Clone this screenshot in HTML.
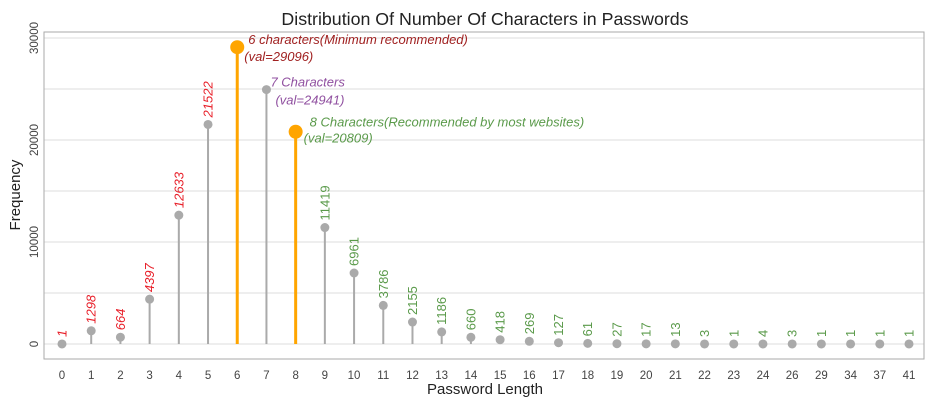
<!DOCTYPE html>
<html><head><meta charset="utf-8"><style>
body{margin:0;background:#fff;font-family:"Liberation Sans",sans-serif}
</style></head><body>
<svg id="c" width="934" height="404" xmlns="http://www.w3.org/2000/svg">
<text x="485" y="25" text-anchor="middle" font-size="17.8" fill="#222">Distribution Of Number Of Characters in Passwords</text>
<text x="485" y="394" text-anchor="middle" font-size="15" fill="#222">Password Length</text>
<text transform="translate(20,195) rotate(-90)" text-anchor="middle" font-size="15" fill="#222">Frequency</text>
<g id="g"></g>
</svg>
<script>
const categories=["0","1","2","3","4","5","6","7","8","9","10","11","12","13","14","15","16","17","18","19","20","21","22","23","24","26","29","34","37","41"];
const values=[1,1298,664,4397,12633,21522,29096,24941,20809,11419,6961,3786,2155,1186,660,418,269,127,61,27,17,13,3,1,4,3,1,1,1,1];
const yTicks=[0,10000,20000,30000];
const gridVals=[0,5000,10000,15000,20000,25000,30000];
const NS="http://www.w3.org/2000/svg";
const g=document.getElementById('g');
const L=44,R=924,T=32,B=359;
const xS=i=>62+i*(909-62)/(categories.length-1);
const yS=v=>344-v*(344-38)/30000;
function mk(t,a,p){const e=document.createElementNS(NS,t);for(const k in a)e.setAttribute(k,a[k]);(p||g).appendChild(e);return e;}
gridVals.forEach(v=>{const l=mk('line',{x1:L,x2:R,y1:yS(v),y2:yS(v),stroke:'#dcdcdc','stroke-width':1});

});
const fr=mk('rect',{x:L,y:T,width:R-L,height:B-T,fill:'none',stroke:'#aaa','stroke-width':1});


yTicks.forEach(v=>{const t=mk('text',{transform:`translate(38,${yS(v)}) rotate(-90)`,'text-anchor':'middle','font-size':11.5,fill:'#444'});t.textContent=v;

});
categories.forEach((c,i)=>{const v=values[i];const x=xS(i),y=yS(v);
const hi=(c==="6"||c==="8");
const col=hi?'#FFA500':'#aaa';
const ln=mk('line',{x1:x,x2:x,y1:yS(0),y2:y,stroke:col,'stroke-width':hi?3:2});


const d=mk('circle',{cx:x,cy:y,r:hi?7:4.5,fill:col});


const xt=mk('text',{x:x,y:379,'text-anchor':'middle','font-size':11.5,fill:'#444'});xt.textContent=c;


if(+c<=5||+c>=9){const red=+c<=5;
const lb=mk('text',{transform:`translate(${x+4.5},${y-7}) rotate(-90)`,'font-size':13,fill:red?'#e8202a':'#5a9a4a','font-style':red?'italic':'normal'});lb.textContent=v;

}
});
function ann(x,y,s,col,name){const t=mk('text',{x:x,y:y,'font-size':13,fill:col,'font-style':'italic'});t.textContent=s;

}
const i6=categories.indexOf("6"),i7=categories.indexOf("7"),i8=categories.indexOf("8");
ann(xS(i6)+11,yS(values[i6])-3,"6 characters(Minimum recommended)","#a02020","annotation-6");
ann(xS(i6)+7,yS(values[i6])+14,"(val="+values[i6]+")","#a02020","annotation-6-val");
ann(xS(i7)+4,yS(values[i7])-3,"7 Characters","#9050a0","annotation-7");
ann(xS(i7)+9,yS(values[i7])+15,"(val="+values[i7]+")","#9050a0","annotation-7-val");
ann(xS(i8)+14,yS(values[i8])-5,"8 Characters(Recommended by most websites)","#5a9a4a","annotation-8");
ann(xS(i8)+8,yS(values[i8])+11,"(val="+values[i8]+")","#5a9a4a","annotation-8-val");
</script>
</body></html>
